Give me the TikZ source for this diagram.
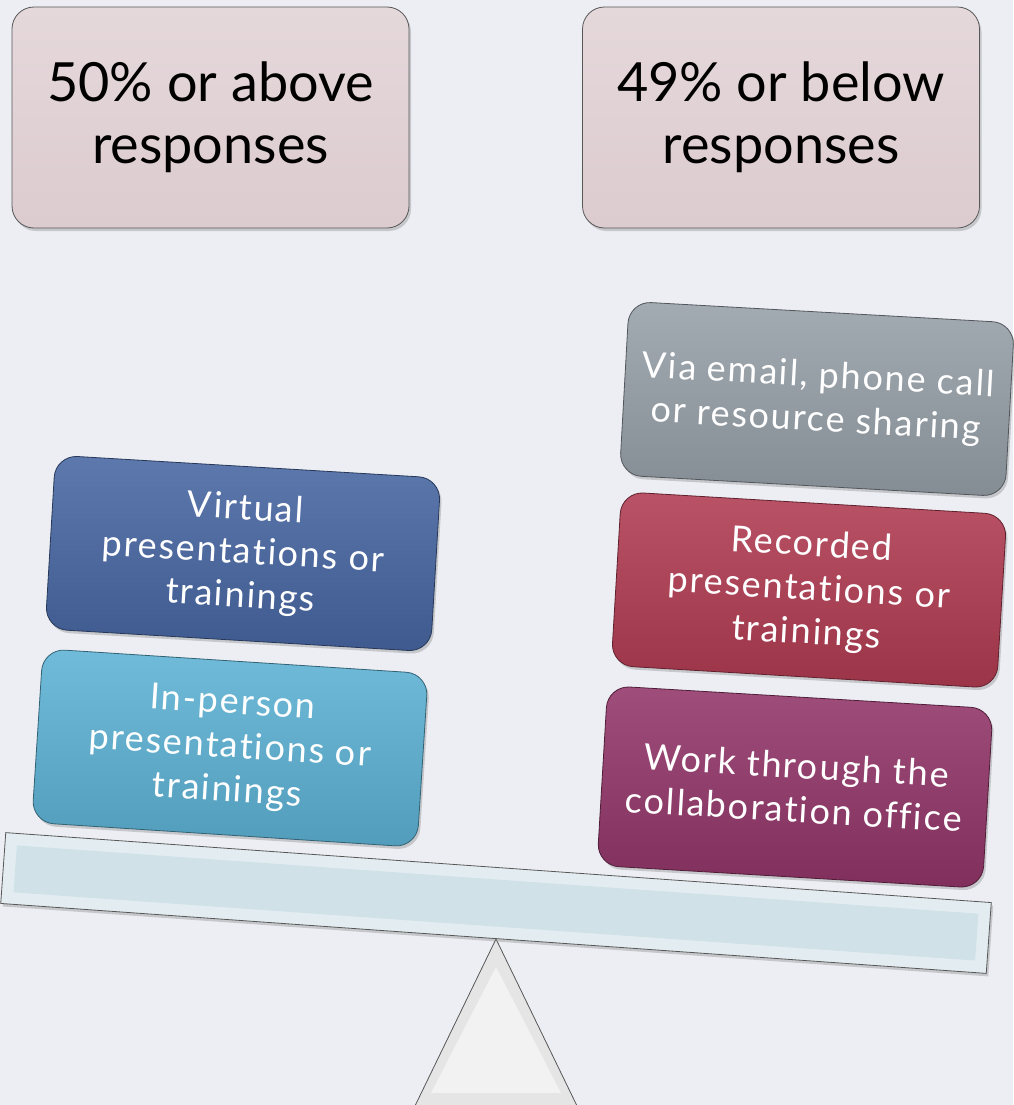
\documentclass[tikz,border=0pt]{standalone}
\usepackage{fontspec}
\setmainfont{Lato}
\newfontfamily\cardfont[LetterSpace=5,Ligatures={NoCommon,NoRare}]{Lato}
\usetikzlibrary{shadows,positioning}
\definecolor{paper}{HTML}{ECEEF3}
\definecolor{pinkbox}{HTML}{DCCBCF}
\definecolor{darkblue}{HTML}{4766A2}
\definecolor{skyblue}{HTML}{5CB2D4}
\definecolor{slategrey}{HTML}{969FA8}
\definecolor{darkred}{HTML}{B03B51}
\definecolor{plum}{HTML}{923568}
\definecolor{beamblue}{HTML}{D0E1E7}
\definecolor{edgegrey}{HTML}{575757}

\begin{document}
\begin{tikzpicture}[
  x=1pt, y=-1pt,
  shade/.style = {drop shadow={opacity=.35, shadow xshift=2pt, shadow yshift=-3pt}},
  head/.style = {draw=edgegrey, thick, rounded corners=22pt, shade,
    top color=pinkbox!75!white, bottom color=pinkbox,
    minimum width=397pt, minimum height=221pt, align=center,
    font=\fontsize{54}{62}\selectfont},
  card/.style = {draw=#1!55!black, thick, rounded corners=22pt, shade,
    top color=#1!88!white, bottom color=#1!88!black,
    minimum width=386pt, minimum height=174pt, align=center, text=white,
    font=\cardfont\fontsize{36}{44}\selectfont, rotate=-3.4}
  ]
  \useasboundingbox (0,0) rectangle (1013,1105);
  \fill[paper] (0,0) rectangle (1013,1105);
  % Headings
  \node[head] (high) at (210.5,117.5) {50\% or above\\responses};
  \node[head] (low) at (781,117.5) {49\% or below\\responses};
  % Fulcrum
  \coordinate (apex) at (496,939);
  \draw[edgegrey, thick, fill=black!10] (apex) -- (579,1110) -- (413,1110) -- cycle;
  \fill[black!5] (496,967) -- (561,1093) -- (431,1093) -- cycle;
  % Beam
  \node[draw=edgegrey, thick, fill=beamblue!60!white, shade, rotate=-4.06,
    minimum width=988pt, minimum height=71pt, inner sep=0pt] (beam) at (496,903) {};
  \node[fill=beamblue, rotate=-4.06, minimum width=964pt, minimum height=47pt,
    inner sep=0pt] (plank) at (beam.center) {};
  % Left pan
  \node[card=darkblue] (virtual) at (243,553.5) {Virtual\\presentations or\\trainings};
  \node[card=skyblue, rotate=-0.3] (inperson) at (230,748) {In-person\\presentations or\\trainings};
  % Right pan
  \node[card=slategrey, rotate=0.2] (email) at (817,399)
    {Via email, phone call\\or resource sharing};
  \node[card=darkred] (recorded) at (809,590) {Recorded\\presentations or\\trainings};
  \node[card=plum, minimum height=180pt] (office) at (795,787) {Work through the\\collaboration office};
\end{tikzpicture}
\end{document}
